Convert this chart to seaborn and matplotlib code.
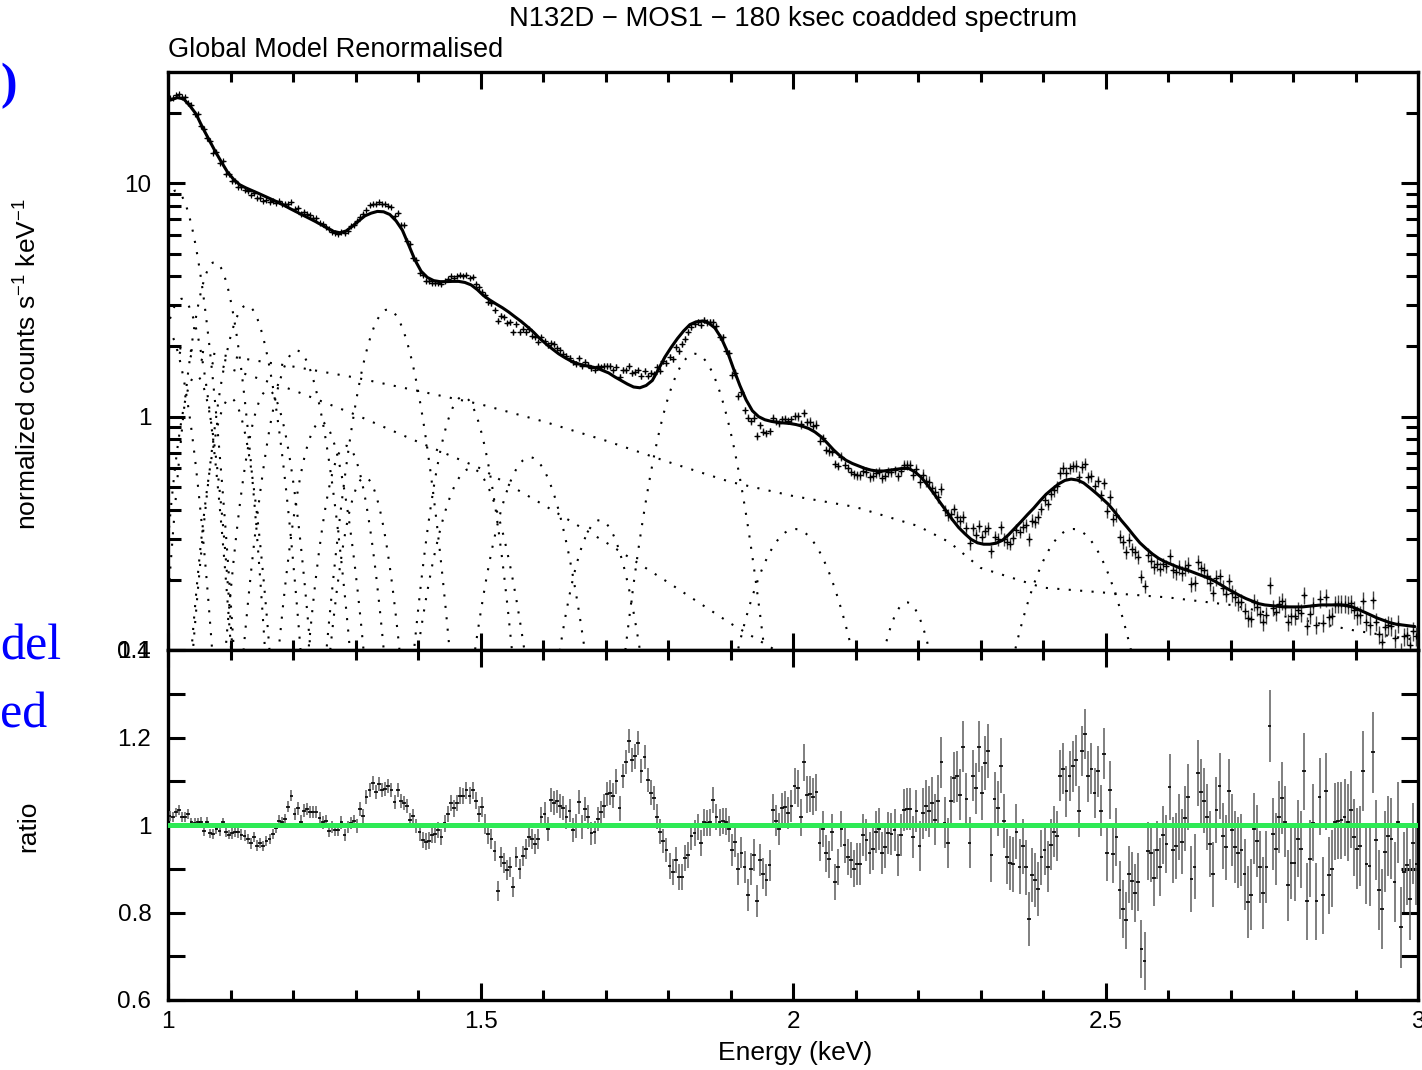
import numpy as np
import matplotlib
matplotlib.use("Agg")
import matplotlib.pyplot as plt
import seaborn as sns
from matplotlib.ticker import FixedLocator, NullFormatter

# ---------------- data ----------------
# ratio (data / model), 0.005 keV bins starting at 1.0025 keV
ratio_vals = [
    1.020, 1.019, 1.029, 1.034, 1.019, 1.018, 1.025, 1.006, 1.004, 1.006,
    1.008, 0.987, 1.008, 0.981, 0.979, 0.991, 0.987, 1.006, 0.983, 0.978,
    0.981, 0.985, 0.983, 0.978, 0.976, 0.968, 0.958, 0.973, 0.953, 0.959,
    0.952, 0.964, 0.968, 0.979, 0.993, 1.010, 1.006, 1.014, 1.042, 1.067,
    1.025, 1.038, 1.008, 1.033, 1.037, 1.029, 1.029, 1.029, 1.015, 1.006,
    1.010, 0.987, 0.995, 0.989, 0.989, 1.006, 0.977, 0.995, 1.004, 1.010,
    0.997, 1.037, 1.020, 1.065, 1.079, 1.096, 1.075, 1.094, 1.079, 1.083,
    1.090, 1.079, 1.052, 1.081, 1.056, 1.050, 1.043, 1.011, 1.021, 0.998,
    0.983, 0.966, 0.962, 0.964, 0.977, 0.979, 0.989, 0.973, 1.004, 1.025,
    1.050, 1.038, 1.050, 1.067, 1.066, 1.079, 1.067, 1.079, 1.056, 1.025,
    1.041, 1.002, 0.979, 0.968, 0.941, 0.849, 0.926, 0.914, 0.897, 0.904,
    0.858, 0.927, 0.899, 0.930, 0.945, 0.973, 0.968, 0.956, 0.969, 1.018,
    1.025, 0.991, 1.057, 1.050, 1.054, 1.043, 1.039, 1.018, 1.033, 0.989,
    0.998, 1.052, 0.996, 1.037, 1.018, 0.981, 0.983, 1.014,
    1.029, 1.043, 1.071, 1.074, 1.067, 1.100, 1.038, 1.112, 1.144, 1.192,
    1.149, 1.157, 1.188, 1.123, 1.156, 1.103, 1.074, 1.062, 1.019, 0.985,
    0.964, 0.943, 0.907, 0.893, 0.920, 0.882, 0.882, 0.924, 0.931, 0.974,
    0.982, 0.995, 0.959, 1.006, 1.005, 1.006, 1.057, 1.018, 1.006, 1.010,
    1.008, 0.991, 0.943, 0.962, 0.900, 0.937, 0.904, 0.840, 0.900, 0.931,
    0.826, 0.920, 0.889, 0.874, 0.908, 1.034, 1.010, 0.991, 1.038, 1.041,
    1.028, 1.043, 1.089, 1.084, 1.018, 1.143, 1.069, 1.071, 1.065, 1.075,
    0.960, 0.991, 0.935, 0.922, 0.983, 0.870, 0.904, 0.991, 0.955, 0.927,
    0.920, 0.900, 0.910, 0.910, 0.978, 0.966, 0.935, 0.946, 0.985, 0.991,
    0.935, 0.949, 0.981, 0.979, 0.989, 0.932, 0.978, 1.035, 1.036, 1.037,
    0.972, 1.033, 0.952, 1.027, 1.044, 1.031, 1.051, 1.012, 1.056, 1.143,
    1.005, 0.959, 1.054, 1.108, 1.111, 1.069, 1.179, 1.060, 0.960, 1.113,
    1.084, 1.179, 1.074, 1.142, 1.169, 0.932, 1.060, 1.038, 1.136, 1.010,
    0.928, 0.913, 0.910, 0.985, 0.905,
    0.951, 0.903, 0.785, 0.886, 0.874, 0.853, 0.926, 0.943, 0.905, 0.955,
    0.985, 0.975, 1.113, 1.129, 1.077, 1.112, 1.134, 1.148, 1.031, 1.169,
    1.208, 1.111, 1.129, 1.073, 1.123, 1.033, 1.163, 0.937, 1.080, 0.933,
    0.973, 0.851, 0.808, 0.782, 0.887, 0.872, 0.845, 0.870, 0.717, 0.690,
    0.941, 0.935, 0.880, 0.943, 0.904, 0.977, 0.956, 1.087, 0.943, 0.952,
    0.995, 0.962, 1.015, 1.064, 0.877, 0.905, 1.119, 1.075, 1.056, 1.018,
    0.956, 0.887, 1.035, 1.089, 0.975, 0.949, 1.077, 0.989, 0.949, 0.937,
    0.943, 0.887, 0.824, 0.841, 0.992, 0.964, 0.904, 0.844, 0.904, 1.227,
    0.979, 0.945, 1.019, 1.061, 1.008, 0.862, 0.914, 0.914, 0.969, 0.945,
    1.123, 0.826, 0.923, 1.005, 0.826, 1.065, 0.840, 1.077, 0.885, 0.900,
    1.008, 1.010, 1.011, 1.018, 1.006, 1.035, 0.972, 0.946, 0.952, 1.123,
    0.912, 0.907, 1.166, 0.966, 0.851, 0.808, 0.939, 0.975, 0.969, 0.870,
    1.006, 0.766, 0.893, 0.909, 0.830, 0.958, 0.910,
]

# 1-sigma relative errors, one value per 0.1 keV segment (1.0-1.1, ..., 2.9-3.0)
ratio_err_segments = [0.011, 0.012, 0.014, 0.016, 0.019, 0.023, 0.027, 0.028, 0.030, 0.036,
                      0.042, 0.048, 0.058, 0.062, 0.058, 0.066, 0.075, 0.082, 0.088, 0.092]

# folded total model (normalized counts s^-1 keV^-1), 0.01 keV channels from 1.005 keV
model_vals = [
    22.8, 23.3, 23.0, 21.5, 19.8, 17.4, 15.5, 13.8, 12.4, 11.2,
    10.4, 9.85, 9.55, 9.3, 9.05, 8.8, 8.55, 8.32, 8.07, 7.8,
    7.56, 7.33, 7.1, 6.88, 6.65, 6.43, 6.22, 6.14, 6.25, 6.55,
    6.9, 7.25, 7.45, 7.58, 7.55, 7.35, 6.9, 6.3, 5.45, 4.7,
    4.2, 3.95, 3.83, 3.79, 3.79, 3.8, 3.8, 3.76, 3.67, 3.5,
    3.3, 3.16, 3.04, 2.93, 2.81, 2.68, 2.56, 2.43, 2.3, 2.16,
    2.05, 1.95, 1.86, 1.79, 1.73, 1.69, 1.66, 1.64, 1.62, 1.58,
    1.54, 1.48, 1.43, 1.38, 1.34, 1.33, 1.36, 1.43, 1.6, 1.8,
    1.98, 2.16, 2.33, 2.48, 2.55, 2.57, 2.52, 2.4, 2.18, 1.9,
    1.6, 1.36, 1.18, 1.06, 1.0, 0.97, 0.955, 0.945, 0.94, 0.935,
    0.925, 0.91, 0.89, 0.86, 0.82, 0.77, 0.72, 0.68, 0.65, 0.63,
    0.615, 0.6, 0.59, 0.585, 0.585, 0.59, 0.595, 0.6, 0.6, 0.58,
    0.55, 0.51, 0.47, 0.43, 0.395, 0.362, 0.335, 0.315, 0.298, 0.288,
    0.284, 0.284, 0.287, 0.295, 0.312, 0.333, 0.355, 0.38, 0.405, 0.435,
    0.465, 0.49, 0.515, 0.533, 0.54, 0.535, 0.52, 0.495, 0.47, 0.445,
    0.42, 0.39, 0.36, 0.335, 0.31, 0.288, 0.272, 0.258, 0.247, 0.239,
    0.233, 0.227, 0.222, 0.218, 0.213, 0.208, 0.203, 0.197, 0.19, 0.183,
    0.177, 0.171, 0.166, 0.162, 0.158, 0.156, 0.155, 0.154, 0.153, 0.153,
    0.153, 0.153, 0.154, 0.155, 0.156, 0.156, 0.156, 0.156, 0.155, 0.153,
    0.149, 0.145, 0.141, 0.137, 0.134, 0.131, 0.129, 0.128, 0.127, 0.126,
]

# Gaussian line components: centre (keV), peak height, sigma (keV)
line_centers = [0.995, 1.012, 1.022, 1.045, 1.075, 1.100, 1.126, 1.160, 1.206, 1.245,
                1.285, 1.315, 1.352, 1.472, 1.485, 1.579, 1.691, 1.843, 2.003, 2.182, 2.448]
line_peaks = [2.40, 9.30, 3.20, 1.50, 4.60, 1.20, 3.00, 1.30, 1.92, 0.95,
              0.75, 0.55, 2.88, 1.22, 0.60, 0.67, 0.36, 1.86, 0.33, 0.16, 0.33]
line_sigmas = [0.030, 0.031, 0.030, 0.025, 0.029, 0.028, 0.033, 0.030, 0.035, 0.032,
               0.030, 0.030, 0.038, 0.035, 0.045, 0.045, 0.040, 0.046, 0.059, 0.037, 0.060]

# continuum components
cont1_energy = [1.0, 1.1, 1.2, 1.3, 1.4, 1.5, 1.6, 1.7, 1.8, 1.9, 2.0, 2.1, 2.2,
                2.25, 2.3, 2.4, 2.5, 2.6, 2.7, 2.8, 2.9, 3.0]
cont1_vals = [2.0, 1.81, 1.64, 1.47, 1.29, 1.13, 0.955, 0.79, 0.64, 0.525, 0.457, 0.41, 0.34,
              0.29, 0.225, 0.185, 0.176, 0.168, 0.156, 0.137, 0.121, 0.110]
cont2_energy = [1.0, 1.1, 1.2, 1.3, 1.4, 1.5, 1.6, 1.7, 1.8, 1.9, 2.0]
cont2_vals = [1.95, 1.6, 1.3, 1.02, 0.78, 0.60, 0.42, 0.29, 0.195, 0.13, 0.09]

x_ticks = [1, 1.5, 2, 2.5, 3]
x_ticklabels = ["1", "1.5", "2", "2.5", "3"]
top_yticks = [0.1, 1, 10]
top_yticklabels = ["0.1", "1", "10"]
ratio_yticks = [0.6, 0.8, 1.0, 1.2, 1.4]
ratio_yticklabels = ["0.6", "0.8", "1", "1.2", "1.4"]

# ---------------- derived arrays ----------------
ratio = np.array(ratio_vals)
n = min(len(ratio), 2 * len(model_vals))
ratio = ratio[:n]
E_data = 1.0025 + 0.005 * np.arange(n)
err_rel = np.repeat(ratio_err_segments, 20)[:n]
model = np.array(model_vals)
E_model = 1.005 + 0.01 * np.arange(len(model))
model_per_bin = np.repeat(model, 2)[:n]
data_top = model_per_bin * ratio
data_err = data_top * err_rel

# ---------------- figure ----------------
sns.set_theme(style="ticks")
plt.rcParams["font.family"] = ["Liberation Sans", "DejaVu Sans"]
plt.rcParams["mathtext.fontset"] = "custom"
plt.rcParams["mathtext.rm"] = "Liberation Sans"
plt.rcParams["mathtext.it"] = "Liberation Sans:italic"
plt.rcParams["mathtext.bf"] = "Liberation Sans:bold"

W, H = 1422, 1070
fig = plt.figure(figsize=(W / 100, H / 100), dpi=100)
fig.patch.set_facecolor("white")
ax1 = fig.add_axes([168 / W, 1 - 650 / H, 1250 / W, 578 / H])
ax2 = fig.add_axes([168 / W, 1 - 1000 / H, 1250 / W, 350 / H])

# --- top panel ---
ax1.set_yscale("log")
E_fine = np.linspace(0.98, 3.0, 1200)
dots = (0, (1.0, 4.5))
for c, p, s in zip(line_centers, line_peaks, line_sigmas):
    g = p * np.exp(-0.5 * ((E_fine - c) / s) ** 2)
    g = np.where(g > 0.05, g, np.nan)
    ax1.plot(E_fine, g, ls=dots, color="black", lw=1.5, zorder=2)
ax1.plot(cont1_energy, cont1_vals, ls=dots, color="black", lw=1.5, zorder=2)
ax1.plot(cont2_energy, cont2_vals, ls=dots, color="black", lw=1.5, zorder=2)

ax1.errorbar(E_data, data_top, yerr=data_err, fmt="none", ecolor="#444444",
             elinewidth=1.0, zorder=3)
ax1.errorbar(E_data, data_top, xerr=0.003, fmt="none", ecolor="black",
             elinewidth=1.0, zorder=3)
sns.scatterplot(x=E_data, y=data_top, marker="+", s=22, color="black",
                linewidth=0.9, ax=ax1, zorder=3, legend=False)
sns.lineplot(x=E_model, y=model, color="black", lw=2.2,
             ax=ax1, zorder=4, estimator=None, legend=False)

ax1.set_xlim(1, 3)
ax1.set_ylim(0.1, 30)
ax1.yaxis.set_major_locator(FixedLocator(top_yticks))
ax1.set_yticklabels(top_yticklabels)
minor_top = [0.2, 0.3, 0.4, 0.5, 0.6, 0.7, 0.8, 0.9, 2, 3, 4, 5, 6, 7, 8, 9, 20]
ax1.yaxis.set_minor_locator(FixedLocator(minor_top))
ax1.yaxis.set_minor_formatter(NullFormatter())

# --- ratio panel ---
ax2.errorbar(E_data, ratio, yerr=err_rel, fmt="none", ecolor="#6a6a6a",
             elinewidth=1.2, zorder=3)
ax2.errorbar(E_data, ratio, xerr=0.003, fmt="none", ecolor="black",
             elinewidth=1.2, zorder=3)
ax2.axhline(1.0, color="#2EEA55", lw=3.6, zorder=5)
ax2.set_xlim(1, 3)
ax2.set_ylim(0.6, 1.4)
ax2.yaxis.set_major_locator(FixedLocator(ratio_yticks))
ax2.set_yticklabels(ratio_yticklabels)
ax2.yaxis.set_minor_locator(FixedLocator([0.7, 0.9, 1.1, 1.3]))
ax2.yaxis.set_minor_formatter(NullFormatter())

minor_x = [1.1, 1.2, 1.3, 1.4, 1.6, 1.7, 1.8, 1.9, 2.1, 2.2, 2.3, 2.4,
           2.6, 2.7, 2.8, 2.9]
for ax in (ax1, ax2):
    ax.set_facecolor("white")
    ax.xaxis.set_major_locator(FixedLocator(x_ticks))
    ax.xaxis.set_minor_locator(FixedLocator(minor_x))
    ax.xaxis.set_minor_formatter(NullFormatter())
    for sp in ax.spines.values():
        sp.set_visible(True)
        sp.set_linewidth(2.4)
        sp.set_color("black")
    ax.tick_params(which="both", direction="in", top=True, right=True,
                   color="black", width=2.2, labelsize=17.5, labelcolor="black")
    ax.tick_params(which="major", length=12)
    ax.tick_params(which="minor", length=7)
    ax.tick_params(axis="y", pad=12)
    ax.tick_params(axis="x", pad=8)
    ax.set_xlabel("")
    ax.set_ylabel("")
    ax.grid(False)

ax1.tick_params(axis="y", which="minor", length=9)
ax2.tick_params(axis="y", which="minor", length=12)
ax1.tick_params(axis="x", labelbottom=False)
ax2.set_xticklabels(x_ticklabels)

# ---------------- text ----------------
fig.text(793 / W, 1 - 19 / H, "N132D \u2212 MOS1 \u2212 180 ksec coadded spectrum",
         ha="center", va="center", fontsize=19.7, color="black")
fig.text(168 / W, 1 - 50 / H, "Global Model Renormalised", ha="left", va="center",
         fontsize=19.5, color="black")
fig.text(28 / W, 1 - 364 / H, r"normalized counts s$^{-1}$ keV$^{-1}$", rotation=90,
         ha="center", va="center", fontsize=19, color="black")
fig.text(28 / W, 1 - 826 / H, "ratio", rotation=90, ha="center", va="center",
         fontsize=19, color="black")
fig.text(795 / W, 1 - 1053 / H, "Energy (keV)", ha="center", va="center",
         fontsize=19, color="black")

# fragments of slide text visible on the left edge
serif = ["Liberation Serif", "DejaVu Serif"]
fig.text(0.5 / W, 1 - 98 / H, ")", ha="left", va="baseline", color="#0000FF",
         fontsize=36, fontweight="bold", family=serif)
fig.text(0.5 / W, 1 - 660 / H, "del", ha="left", va="baseline", color="#0000FF",
         fontsize=36, family=serif)
fig.text(0.5 / W, 1 - 728 / H, "ed", ha="left", va="baseline", color="#0000FF",
         fontsize=36, family=serif)

fig.savefig("out.png", dpi=100, facecolor="white")
